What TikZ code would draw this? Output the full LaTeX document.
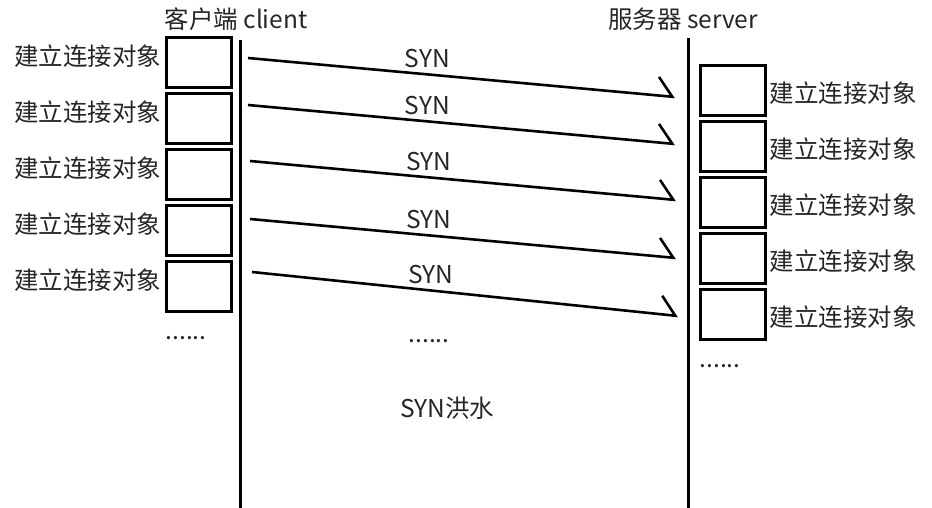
\documentclass[tikz,border=0pt]{standalone}
\usepackage{fontspec}
\setmainfont{Noto Sans CJK SC}
\usepackage{tikz}
\usetikzlibrary{arrows.meta,positioning}
\tikzset{
  objbox/.style={rectangle, draw=black, line width=3pt, fill=white,
                 minimum width=65pt, minimum height=50pt, inner sep=0pt},
  txt/.style={inner sep=0pt, font=\fontsize{24.5}{28}\selectfont, text=black!85},
  life/.style={line width=3pt, draw=black},
  syn/.style={line width=2.6pt, -{Straight Barb[left, length=15pt, width=37pt]}}
}
\begin{document}
\begin{tikzpicture}[x=1pt, y=-1pt]
\useasboundingbox (0,0) rectangle (932,508);
% ---- titles and lifelines ----
\node[txt] (client) at (236,19) {客户端 client};
\node[txt] (server) at (683,19) {服务器 server};
\coordinate (ctop) at (240,40);
\coordinate (cbot) at (240,508);
\coordinate (stop) at (688,38);
\coordinate (sbot) at (688,508);
\draw[life] (ctop) -- (cbot);
\draw[life] (stop) -- (sbot);
% ---- client side objects ----
\node[objbox] (cb1) at (198.5,62.5) {};
\node[objbox, below=3pt of cb1] (cb2) {};
\node[objbox, below=3pt of cb2] (cb3) {};
\node[objbox, below=3pt of cb3] (cb4) {};
\node[objbox, below=3pt of cb4] (cb5) {};
\node[txt, left=3pt of cb1, yshift=6pt] (cl1) {建立连接对象};
\node[txt, left=3pt of cb2, yshift=6pt] (cl2) {建立连接对象};
\node[txt, left=3pt of cb3, yshift=6pt] (cl3) {建立连接对象};
\node[txt, left=3pt of cb4, yshift=6pt] (cl4) {建立连接对象};
\node[txt, left=3pt of cb5, yshift=6pt] (cl5) {建立连接对象};
\node[txt] (cdots) at (186,338) {......};
% ---- server side objects ----
\node[objbox] (sb1) at (732.5,90.5) {};
\node[objbox, below=3pt of sb1] (sb2) {};
\node[objbox, below=3pt of sb2] (sb3) {};
\node[objbox, below=3pt of sb3] (sb4) {};
\node[objbox, below=3pt of sb4] (sb5) {};
\node[txt, right=3pt of sb1, yshift=-3pt] (sl1) {建立连接对象};
\node[txt, right=3pt of sb2, yshift=-3pt] (sl2) {建立连接对象};
\node[txt, right=3pt of sb3, yshift=-3pt] (sl3) {建立连接对象};
\node[txt, right=3pt of sb4, yshift=-3pt] (sl4) {建立连接对象};
\node[txt, right=3pt of sb5, yshift=-3pt] (sl5) {建立连接对象};
\node[txt] (sdots) at (720,366) {......};
% ---- SYN messages ----
\coordinate (s1) at (248,58);  \coordinate (e1) at (675,97);
\coordinate (s2) at (248,105); \coordinate (e2) at (675,144);
\coordinate (s3) at (250,161); \coordinate (e3) at (676,200);
\coordinate (s4) at (250,219); \coordinate (e4) at (676,258);
\coordinate (s5) at (252,272); \coordinate (e5) at (678,316);
\draw[syn] (s1) -- node[txt, pos=0.42, above=5pt] (m1) {SYN} (e1);
\draw[syn] (s2) -- node[txt, pos=0.42, above=5pt] (m2) {SYN} (e2);
\draw[syn] (s3) -- node[txt, pos=0.42, above=5pt] (m3) {SYN} (e3);
\draw[syn] (s4) -- node[txt, pos=0.42, above=5pt] (m4) {SYN} (e4);
\draw[syn] (s5) -- node[txt, pos=0.42, above=5pt] (m5) {SYN} (e5);
\node[txt] (mdots) at (429,341) {......};
\node[txt] (flood) at (447,408) {SYN洪水};
\end{tikzpicture}
\end{document}
